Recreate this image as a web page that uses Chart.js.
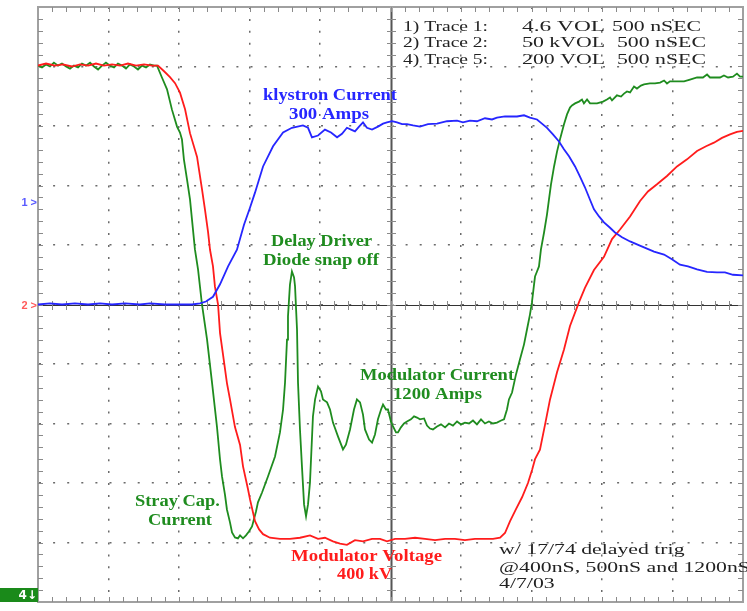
<!DOCTYPE html>
<html>
<head>
<meta charset="utf-8">
<script src="https://cdn.jsdelivr.net/npm/chart.js@4/dist/chart.umd.min.js"></script>
<style>
  html, body { margin: 0; padding: 0; background: #fff; }
  #scope { display: block; }
</style>
</head>
<body>
<canvas id="scope" width="747" height="611"></canvas>
<script>
// Scope screen: 10 x 10 divisions, 500 ns per division.
const TIME_MIN = 0, TIME_MAX = 5000, TIME_DIV = 500;
const DIV_MIN = -5, DIV_MAX = 5;

// Trace 1: klystron current (A), 100 A/div
const klystronTime = [0,85,170,262,355,440,525,617,723,794,901,1007,1092,1149,1191,1241,1291,1348,1411,1461,1504,1539,1596,1667,1738,1801,1879,1915,1943,1986,2035,2078,2121,2156,2191,2220,2248,2277,2305,2333,2369,2411,2447,2475,2511,2546,2582,2617,2660,2709,2766,2830,2901,2972,3014,3064,3113,3170,3220,3255,3312,3397,3447,3489,3539,3574,3610,3652,3695,3730,3766,3809,3844,3879,3915,3943,3979,4014,4057,4092,4142,4199,4248,4298,4369,4440,4496,4553,4610,4674,4745,4816,4872,4929,5000];
const klystronAmps = [0,2,0,2,0,2,0,2,0,2,0,0,0,2,5,13,34,64,92,134,163,188,232,266,289,297,301,297,281,284,294,289,281,287,297,294,291,299,306,297,294,299,304,306,308,306,303,303,301,299,303,304,308,309,306,309,308,313,311,314,316,316,318,314,311,304,297,286,274,261,249,232,215,197,176,160,148,138,129,121,113,106,101,96,89,84,76,67,64,59,55,54,54,50,49];

// Trace 2: modulator voltage (kV), 50 kV/div
const voltageTime = [0,57,121,177,241,298,355,411,468,525,582,638,695,752,809,851,894,936,972,1007,1043,1078,1128,1163,1184,1206,1220,1241,1255,1277,1291,1312,1340,1362,1397,1433,1454,1489,1504,1539,1568,1596,1645,1716,1787,1858,1929,1986,2035,2092,2142,2191,2248,2305,2369,2426,2475,2532,2603,2674,2745,2816,2887,2957,3028,3099,3170,3227,3277,3312,3348,3390,3433,3475,3504,3525,3560,3596,3631,3681,3730,3773,3837,3879,3943,4014,4071,4128,4199,4270,4326,4390,4461,4532,4603,4674,4738,4794,4851,4908,4957,5000];
const voltageKV = [-0.8,-2.5,-0.8,-1.7,0,-1.7,-0.8,-2.5,-0.8,-1.7,-0.8,-2.5,-0.8,-1.7,-0.8,-0.8,4,9,14,22,36,56,76,103,120,139,154,168,185,200,224,242,266,280,303,318,336,355,364,382,389,393,396,397,397,396,394,397,396,399,401,402,398,399,397,397,399,397,397,396,397,398,397,397,398,397,397,397,396,392,382,372,362,350,339,330,322,301,280,257,238,218,198,186,171,160,145,137,126,113,105,99,92,84,78,71,67,64,60,57,55,54];

// Trace 5: modulator current (A), 200 A/div
const currentTime = [0,28,57,85,113,142,170,199,227,255,284,312,340,369,397,426,454,482,511,539,567,596,624,652,681,709,738,766,794,823,844,879,915,950,986,1007,1021,1035,1057,1078,1092,1113,1135,1163,1199,1234,1269,1291,1305,1326,1340,1362,1376,1397,1418,1433,1454,1475,1496,1518,1546,1560,1589,1631,1681,1716,1738,1752,1766,1773,1787,1801,1816,1823,1837,1844,1858,1872,1887,1901,1915,1929,1950,1965,1986,2007,2021,2050,2071,2092,2128,2163,2184,2213,2241,2262,2284,2305,2319,2348,2369,2390,2411,2433,2447,2468,2482,2503,2518,2539,2553,2574,2596,2617,2645,2667,2688,2709,2738,2759,2780,2801,2830,2858,2887,2915,2943,2972,3000,3028,3057,3085,3113,3142,3170,3198,3227,3255,3284,3305,3326,3340,3362,3390,3418,3447,3468,3489,3503,3518,3525,3539,3553,3567,3589,3610,3624,3638,3660,3681,3702,3730,3752,3773,3787,3809,3837,3858,3872,3894,3915,3965,4007,4035,4057,4071,4106,4135,4156,4177,4199,4227,4248,4276,4298,4340,4376,4412,4440,4461,4482,4532,4582,4624,4674,4716,4745,4766,4794,4837,4865,4894,4929,4957,4979,5000];
const currentAmps = [-3,3,-7,0,-13,-3,-10,0,7,-3,3,-10,-3,-13,0,10,-3,-13,-3,3,-10,-3,7,-7,0,10,-3,3,-7,-3,-3,37,77,145,202,222,245,313,380,447,514,615,682,800,918,1062,1210,1321,1378,1439,1489,1533,1566,1583,1586,1576,1586,1576,1563,1546,1496,1465,1432,1378,1311,1230,1153,1062,918,840,733,689,709,739,884,1062,1220,1344,1472,1512,1472,1398,1176,1119,1076,1092,1119,1129,1153,1197,1244,1287,1271,1220,1153,1119,1129,1170,1220,1254,1264,1237,1186,1153,1136,1153,1153,1193,1210,1230,1230,1213,1200,1193,1186,1176,1180,1186,1183,1207,1217,1220,1210,1203,1213,1200,1207,1193,1203,1197,1200,1190,1203,1186,1200,1193,1200,1197,1190,1186,1153,1119,1096,1035,985,934,884,834,793,733,706,689,672,615,558,497,447,397,336,286,245,195,161,138,131,124,118,111,124,111,124,124,118,111,104,114,97,101,91,84,87,67,74,64,60,57,57,54,47,57,50,50,50,44,37,37,27,37,37,37,30,37,34,24,34,34];

// Readout text
const readoutLabels = ['1) Trace 1:', '2) Trace 2:', '4) Trace 5:'];
const readoutScales = ['4.6 VOL', '50 kVOL', '200 VOL'];
const readoutTimebase = ['500 nSEC', '500 nSEC', '500 nSEC'];
const noteLines = ['w/ 17/74 delayed trig', '@400nS, 500nS and 1200nS', '4/7/03'];

const BLUE = '#2626ff', RED = '#ff1c1c', GREEN = '#1f8c1f';

const toPoints = (ts, vs) => ts.map((t, i) => ({ x: t, y: vs[i] }));

// Oscilloscope graticule: centre cross, minor ticks, frame ticks, channel markers
const graticule = {
  id: 'graticule',
  beforeDatasetsDraw(chart) {
    const { ctx, chartArea: a, scales } = chart;
    const xs = scales.x, ys = scales.y;
    const cx = Math.round(xs.getPixelForValue((TIME_MIN + TIME_MAX) / 2));
    const cy = Math.round(ys.getPixelForValue(0));
    const seg = (x1, y1, x2, y2) => { ctx.beginPath(); ctx.moveTo(x1, y1); ctx.lineTo(x2, y2); ctx.stroke(); };
    ctx.save();
    ctx.strokeStyle = '#a8a8a8'; ctx.lineWidth = 3;
    seg(cx + 0.5, a.top, cx + 0.5, a.bottom);
    ctx.strokeStyle = '#555'; ctx.lineWidth = 1;
    seg(cx + 0.5, a.top, cx + 0.5, a.bottom);
    ctx.strokeStyle = '#333';
    seg(a.left, cy + 0.5, a.right, cy + 0.5);

    ctx.strokeStyle = '#8a8a8a'; ctx.lineWidth = 1;
    const tStep = TIME_DIV / 5;
    for (let t = TIME_MIN + tStep; t < TIME_MAX; t += tStep) {
      const px = Math.round(xs.getPixelForValue(t)) + 0.5;
      seg(px, cy - 4, px, cy + 5);
      seg(px, a.top, px, a.top + 5);
      seg(px, a.bottom - 5, px, a.bottom);
    }
    for (let i = 1; i < 50; i++) {
      const v = DIV_MIN + i * 0.2;
      const py = Math.round(ys.getPixelForValue(v)) + 0.5;
      seg(cx - 4, py, cx + 5, py);
      seg(a.left, py, a.left + 5, py);
      seg(a.right - 5, py, a.right, py);
    }
    ctx.restore();
  },
  afterDraw(chart) {
    const { ctx, chartArea: a, scales } = chart;
    const ys = scales.y;
    ctx.save();
    ctx.font = 'bold 11px "Liberation Sans", Arial, sans-serif';
    ctx.textBaseline = 'middle';
    ctx.textAlign = 'right';
    ctx.fillStyle = '#5a5aff';
    ctx.fillText('1 >', a.left - 1, ys.getPixelForValue(1.71));
    ctx.fillStyle = '#ff5a5a';
    ctx.fillText('2 >', a.left - 1, ys.getPixelForValue(-0.02));
    // channel 4 tag
    ctx.fillStyle = '#1a8a1a';
    ctx.fillRect(0, a.bottom - 14, a.left, 14);
    ctx.fillStyle = '#fff';
    ctx.font = 'bold 12px "DejaVu Sans", sans-serif';
    ctx.fillText('4\u2193', a.left - 1, a.bottom - 6);
    ctx.restore();
  }
};

// Text annotations placed in time / division coordinates; w = rendered width in px
const SERIF = '"Liberation Serif", "Times New Roman", serif';
const annotations = [
  { text: 'klystron Current', t: 2071, d: 3.51, w: 134, color: BLUE },
  { text: '300 Amps', t: 2064, d: 3.19, w: 80, color: BLUE },
  { text: 'Delay Driver', t: 2011, d: 1.06, w: 101, color: GREEN },
  { text: 'Diode snap off', t: 2007, d: 0.74, w: 116, color: GREEN },
  { text: 'Modulator Current', t: 2830, d: -1.19, w: 154, color: GREEN },
  { text: '1200 Amps', t: 2833, d: -1.51, w: 89, color: GREEN },
  { text: 'Stray Cap.', t: 989, d: -3.31, w: 85, color: GREEN },
  { text: 'Current', t: 1007, d: -3.63, w: 64, color: GREEN },
  { text: 'Modulator Voltage', t: 2330, d: -4.24, w: 151, color: RED },
  { text: '400 kV', t: 2316, d: -4.54, w: 55, color: RED }
];
const readoutRows = [4.67, 4.39, 4.10];
const readoutCols = [
  { t: 2589, w: 85 },
  { t: 3433, w: 83 },
  { t: 4071, w: 89 }
];
const noteRows = [-4.13, -4.43, -4.70];

const labels = {
  id: 'labels',
  afterDatasetsDraw(chart) {
    const { ctx, scales } = chart;
    const xs = scales.x, ys = scales.y;
    // draw text squeezed/stretched horizontally to a given width
    const fitted = (txt, x, y, width, align) => {
      const m = ctx.measureText(txt).width;
      const sx = width / m;
      ctx.save();
      ctx.translate(x, y);
      ctx.scale(sx, 1);
      ctx.textAlign = align;
      ctx.fillText(txt, 0, 0);
      ctx.restore();
    };
    ctx.save();
    ctx.textBaseline = 'middle';
    ctx.font = 'bold 17px ' + SERIF;
    annotations.forEach(a => {
      ctx.fillStyle = a.color;
      fitted(a.text, xs.getPixelForValue(a.t), ys.getPixelForValue(a.d), a.w, 'center');
    });
    ctx.font = '15px ' + SERIF;
    ctx.fillStyle = '#222';
    const rowTexts = [readoutLabels, readoutScales, readoutTimebase];
    readoutRows.forEach((d, i) => {
      readoutCols.forEach((c, j) => {
        const t = (j === 2 && i > 0) ? c.t + 35 : c.t;
        fitted(rowTexts[j][i], xs.getPixelForValue(t), ys.getPixelForValue(d), c.w, 'left');
      });
    });
    const sx = 1.45;
    noteRows.forEach((d, i) => {
      ctx.save();
      ctx.translate(xs.getPixelForValue(3270), ys.getPixelForValue(d));
      ctx.scale(sx, 1);
      ctx.textAlign = 'left';
      ctx.fillText(noteLines[i], 0, 0);
      ctx.restore();
    });
    ctx.restore();
  }
};

const hidden = (min, max, reverse) => ({ type: 'linear', min, max, reverse: !!reverse, display: false });

new Chart(document.getElementById('scope'), {
  type: 'line',
  data: {
    datasets: [
      { label: 'Klystron current', data: toPoints(klystronTime, klystronAmps), yAxisID: 'yKly', borderColor: BLUE },
      { label: 'Modulator voltage', data: toPoints(voltageTime, voltageKV), yAxisID: 'yVolt', borderColor: RED },
      { label: 'Modulator current', data: toPoints(currentTime, currentAmps), yAxisID: 'yCur', borderColor: GREEN }
    ]
  },
  options: {
    responsive: false,
    animation: false,
    devicePixelRatio: 1,
    parsing: false,
    layout: { padding: { left: 38, top: 7, right: 4, bottom: 9 } },
    elements: {
      line: { borderWidth: 1.8, tension: 0, fill: false },
      point: { radius: 0, hoverRadius: 0 }
    },
    plugins: { legend: { display: false }, tooltip: { enabled: false } },
    scales: {
      x: {
        type: 'linear', position: 'bottom', min: TIME_MIN, max: TIME_MAX,
        ticks: { display: false, stepSize: TIME_DIV },
        grid: { color: '#6a6a6a', lineWidth: 1.5, drawTicks: false },
        border: { display: true, color: '#a0a0a0', width: 2, dash: [2, 9.9] }
      },
      xTop: {
        type: 'linear', position: 'top', min: TIME_MIN, max: TIME_MAX,
        ticks: { display: false }, grid: { drawOnChartArea: false, drawTicks: false },
        border: { display: true, color: '#a0a0a0', width: 2 }
      },
      y: {
        type: 'linear', position: 'left', min: DIV_MIN, max: DIV_MAX,
        ticks: { display: false, stepSize: 1 },
        grid: { color: '#6a6a6a', lineWidth: 1.5, drawTicks: false },
        border: { display: true, color: '#a0a0a0', width: 2, dash: [2, 12.1] }
      },
      yRight: {
        type: 'linear', position: 'right', min: DIV_MIN, max: DIV_MAX,
        ticks: { display: false }, grid: { drawOnChartArea: false, drawTicks: false },
        border: { display: true, color: '#a0a0a0', width: 2 }
      },
      yKly: hidden(-500, 500),
      yVolt: hidden(-50, 450, true),
      yCur: hidden(-200, 1800, true)
    }
  },
  plugins: [graticule, labels]
});
</script>
</body>
</html>
